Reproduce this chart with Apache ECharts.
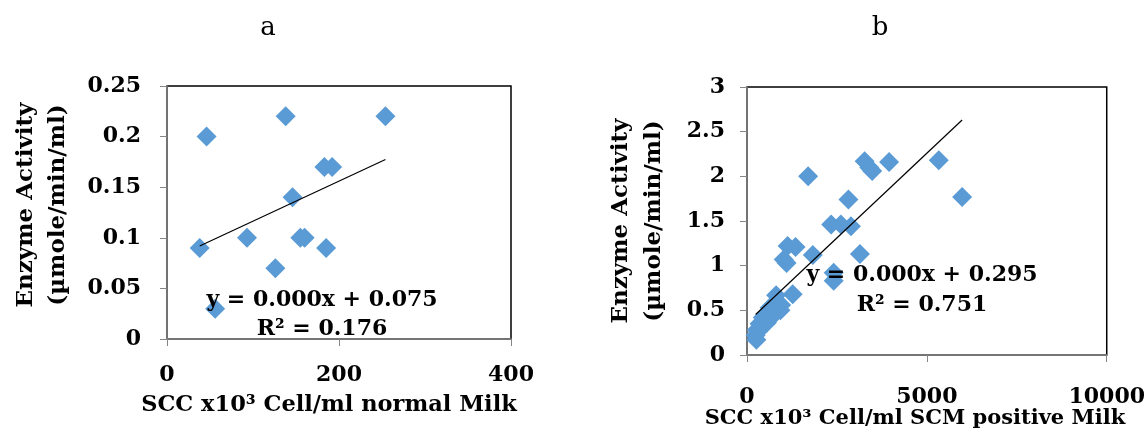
<!DOCTYPE html>
<html>
<head>
<meta charset="utf-8">
<script src="https://cdn.jsdelivr.net/npm/echarts@6/dist/echarts.min.js"></script>
<style>
  html, body { margin: 0; padding: 0; background: #fff; }
  #chart { width: 1148px; height: 430px; }
</style>
</head>
<body>
<div id="chart"></div>
<script>
// panel a: normal milk
var sccNormal = [38, 46, 56, 93, 126, 138, 146, 155, 160, 183, 185, 192, 254];
var enzNormal = [0.09, 0.20, 0.03, 0.10, 0.07, 0.22, 0.14, 0.10, 0.10, 0.17, 0.09, 0.17, 0.22];

// panel b: SCM positive milk
var sccPositive = [240, 260, 270, 320, 350, 400, 440, 550, 630, 720, 810, 930, 950, 1020, 1100, 1130,
  1270, 1350, 1700, 1830, 2340, 2410, 2410, 2610, 2820, 2890, 3140, 3270, 3400, 3480, 3950, 5330, 5980];
var enzPositive = [0.22, 0.17, 0.28, 0.27, 0.35, 0.32, 0.42, 0.36, 0.53, 0.44, 0.67, 0.50, 0.56, 1.07, 1.03, 1.22,
  0.68, 1.21, 2.00, 1.12, 1.46, 0.92, 0.83, 1.46, 1.74, 1.44, 1.13, 2.17, 2.10, 2.06, 2.16, 2.18, 1.77];

var xTicksA = [0, 400, 200];   // min, max, interval
var yTicksA = [0, 0.25, 0.05];
var xTicksB = [0, 10000, 5000];
var yTicksB = [0, 3, 0.5];

var eqA = ["y = 0.000x + 0.075", "R² = 0.176"];
var eqB = ["y = 0.000x + 0.295", "R² = 0.751"];

var font = "DejaVu Serif";
var blue = "#5B9BD5";
var axisGray = "#868686";

function pairs(xs, ys) {
  return xs.map(function (x, i) { return [x, ys[i]]; });
}

// least squares trend line over the data range
function trend(xs, ys) {
  var n = xs.length, mx = 0, my = 0;
  for (var i = 0; i < n; i++) { mx += xs[i]; my += ys[i]; }
  mx /= n; my /= n;
  var sxy = 0, sxx = 0;
  for (var j = 0; j < n; j++) {
    sxy += (xs[j] - mx) * (ys[j] - my);
    sxx += (xs[j] - mx) * (xs[j] - mx);
  }
  var b = sxy / sxx, a = my - b * mx;
  var lo = Math.min.apply(null, xs), hi = Math.max.apply(null, xs);
  return [[lo, a + b * lo], [hi, a + b * hi]];
}

function axisOf(idx, t, margin) {
  return {
    gridIndex: idx, type: "value", min: t[0], max: t[1], interval: t[2],
    axisLine: { show: true, lineStyle: { color: axisGray, width: 1.5 } },
    axisTick: { show: true, inside: false, length: 7, lineStyle: { color: axisGray } },
    splitLine: { show: false },
    axisLabel: {
      margin: margin, color: "#000", fontFamily: font, fontWeight: "bold", fontSize: 22,
      formatter: function (v) { return String(+v.toFixed(2)); }
    }
  };
}

function txt(x, y, s, size, bold, rot) {
  return {
    type: "text", x: x, y: y, rotation: rot || 0,
    style: {
      text: s, fill: "#000", fontFamily: font, fontSize: size,
      fontWeight: bold ? "bold" : "normal",
      align: "center", verticalAlign: "middle"
    },
    z: 100
  };
}

var myChart = echarts.init(document.getElementById("chart"));

var option = {
  animation: false,
  backgroundColor: "#fff",
  grid: [
    { left: 167, top: 86, width: 344, height: 253, show: true, borderColor: "#000", borderWidth: 1.5 },
    { left: 747, top: 87, width: 361, height: 268, show: true, borderColor: "#000", borderWidth: 1.5 }
  ],
  xAxis: [axisOf(0, xTicksA, 25), axisOf(1, xTicksB, 31)],
  yAxis: [axisOf(0, yTicksA, 26), axisOf(1, yTicksB, 22)],
  series: [
    {
      type: "scatter", xAxisIndex: 0, yAxisIndex: 0, symbol: "diamond", symbolSize: 20,
      itemStyle: { color: blue, opacity: 1 }, data: pairs(sccNormal, enzNormal)
    },
    {
      type: "line", xAxisIndex: 0, yAxisIndex: 0, showSymbol: false, z: 5,
      lineStyle: { color: "#000", width: 1.2 }, data: trend(sccNormal, enzNormal)
    },
    {
      type: "scatter", xAxisIndex: 1, yAxisIndex: 1, symbol: "diamond", symbolSize: 20,
      itemStyle: { color: blue, opacity: 1 }, data: pairs(sccPositive, enzPositive)
    },
    {
      type: "line", xAxisIndex: 1, yAxisIndex: 1, showSymbol: false, z: 5,
      lineStyle: { color: "#000", width: 1.2 }, data: trend(sccPositive, enzPositive)
    }
  ],
  graphic: [
    txt(268, 28, "a", 26, false),
    txt(880, 28, "b", 26, false),
    txt(26, 205, "Enzyme Activity", 23, true, Math.PI / 2),
    txt(58, 205, "(µmole/min/ml)", 23, true, Math.PI / 2),
    txt(621, 221, "Enzyme Activity", 23, true, Math.PI / 2),
    txt(654, 221, "(µmole/min/ml)", 23, true, Math.PI / 2),
    txt(329, 405, "SCC x10³ Cell/ml normal Milk", 22.5, true),
    txt(915, 419, "SCC x10³ Cell/ml SCM positive Milk", 21, true),
    txt(322, 300, eqA[0], 22, true),
    txt(322, 329, eqA[1], 22, true),
    txt(922, 275, eqB[0], 22, true),
    txt(922, 305, eqB[1], 22, true)
  ]
};

option && myChart.setOption(option);
</script>
</body>
</html>
